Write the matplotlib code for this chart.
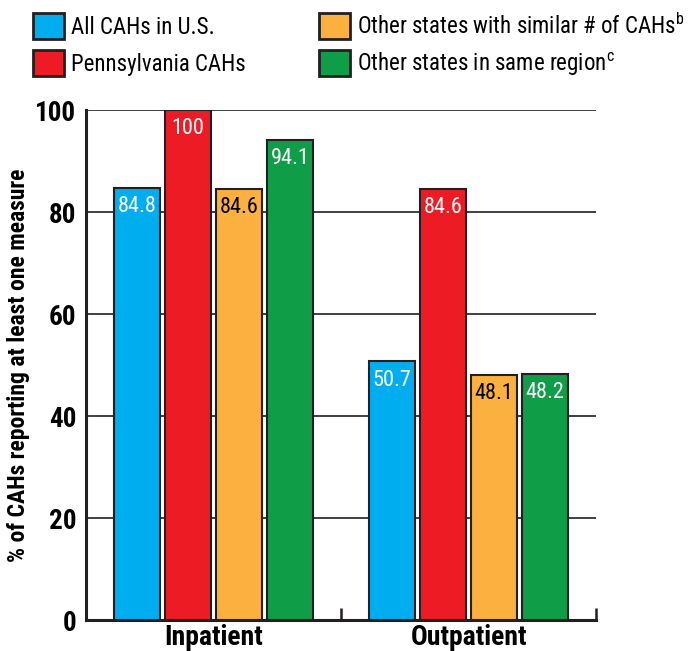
import numpy as np
import matplotlib.pyplot as plt
from matplotlib.patches import Patch

plt.rcParams['font.family'] = ['Roboto Condensed', 'Archivo Narrow', 'DejaVu Sans']
plt.rcParams['mathtext.fontset'] = 'custom'
plt.rcParams['mathtext.rm'] = 'Roboto Condensed'
plt.rcParams['mathtext.default'] = 'regular'

# data
categories = ['Inpatient', 'Outpatient']
series = ['All CAHs in U.S.', 'Pennsylvania CAHs',
          'Other states with similar # of CAHs$^{b}$', 'Other states in same region$^{c}$']
values = [
    [84.8, 50.7],
    [100, 84.6],
    [84.6, 48.1],
    [94.1, 48.2],
]
colors = ['#00aeef', '#ed1c24', '#fbb040', '#0f9d48']
text_colors = ['white', 'white', 'black', 'white']
edge = '#231f20'

fig = plt.figure(figsize=(6.97, 6.51), dpi=100)
ax = fig.add_axes([0.1234, 0.0476, 0.7317, 0.7834])

x = np.array([0.5, 1.5])
width = 0.178
step = 0.2
for i, (vals, c, tc) in enumerate(zip(values, colors, text_colors)):
    xs = x + (i - 1.5) * step
    ax.bar(xs, vals, width, color=c, edgecolor=edge, linewidth=1.5, zorder=3)
    for xx, v in zip(xs, vals):
        ax.text(xx, v - 1.6, f'{v:g}', ha='center', va='top', color=tc,
                fontsize=16, zorder=4)

ax.set_xlim(0, 2)
ax.set_ylim(0, 100)
ax.set_yticks([0, 20, 40, 60, 80, 100])
ax.tick_params(axis='y', length=0, pad=7, labelsize=19.5)
for lab in ax.get_yticklabels():
    lab.set_fontweight('bold')
ax.yaxis.grid(True, color=edge, linewidth=1.2, zorder=0)
ax.set_axisbelow(True)

ax.set_xticks([0, 1, 2])
ax.set_xticklabels(['', '', ''])
ax.tick_params(axis='x', which='major', direction='in', length=9, width=1.8, color=edge)
ax.set_xticks(x, minor=True)
ax.set_xticklabels(categories, minor=True, fontsize=20, fontweight='bold')
ax.tick_params(axis='x', which='minor', length=0, pad=3)

for s in ['top', 'right']:
    ax.spines[s].set_visible(False)
for s in ['left', 'bottom']:
    ax.spines[s].set_color(edge)
    ax.spines[s].set_linewidth(2.2)

ax.set_ylabel('% of CAHs reporting at least one measure', fontsize=17,
              fontweight='bold', labelpad=4)

handles = [Patch(facecolor=c, edgecolor=edge, linewidth=2) for c in colors]
for col, x0 in enumerate([33, 319]):
    fig.legend(handles[2 * col:2 * col + 2], series[2 * col:2 * col + 2],
               loc='upper left', bbox_to_anchor=(x0 / 697, 1 - 13 / 651),
               borderaxespad=0, borderpad=0, frameon=False,
               fontsize=16.5, handlelength=1.36, handleheight=1.36,
               handletextpad=0.3, labelspacing=0.5)

fig.savefig('out.png', dpi=100)
